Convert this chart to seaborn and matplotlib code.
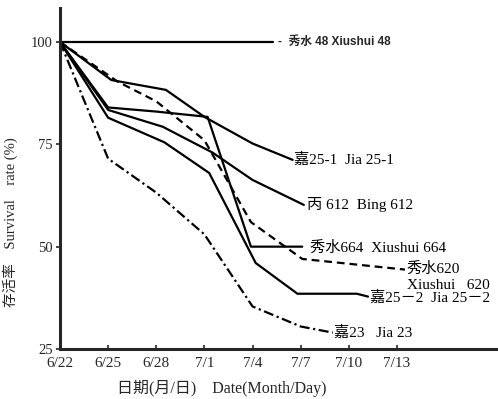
import matplotlib
matplotlib.use('Agg')
import matplotlib.pyplot as plt
import seaborn as sns

sns.set_style('ticks')
plt.rcParams['font.family'] = ['Liberation Serif', 'Noto Sans CJK SC']
plt.rcParams['axes.unicode_minus'] = False

# --- 数据 (day 0 = 6/22) ---
tick_days = [0, 3, 6, 9, 12, 15, 18, 21]
tick_labels = ['6/22', '6/25', '6/28', '7/1', '7/4', '7/7', '7/10', '7/13']

xs48_days = [0, 13.3]
xs48_vals = [100, 100]

jia251_days = [0, 3.2, 6.6, 9.0, 12.0, 14.5]
jia251_vals = [100, 90.7, 88.3, 81.7, 75.2, 71.2]

bing612_days = [0, 3.0, 6.4, 9.5, 12.0, 15.2]
bing612_vals = [100, 83.4, 79.3, 73.0, 66.3, 60.2]

xs664_days = [0, 3.0, 6.0, 9.2, 11.9, 15.1]
xs664_vals = [100, 84.0, 83.0, 81.7, 50.0, 50.0]

xs620_days = [0, 3.6, 6.0, 9.0, 11.9, 15.1, 21.5]
xs620_vals = [100, 90.3, 85.5, 76.0, 56.0, 47.0, 44.4]

jia252_days = [0, 3.0, 6.5, 9.3, 12.2, 14.8, 18.5, 19.2]
jia252_vals = [100, 81.5, 75.5, 68.0, 46.0, 38.5, 38.5, 37.8]

jia23_days = [0, 3.0, 6.0, 9.0, 12.0, 15.0, 17.0]
jia23_vals = [100, 71.5, 63.2, 53.0, 35.4, 30.5, 29.0]

fig = plt.figure(figsize=(4.98, 3.99), dpi=100)
ax = fig.add_axes([60/498, 50/399, 438/498, 341/399])

lw = 1.6
solid = dict(color='black', lw=lw, sort=False, estimator=None, ax=ax)
sns.lineplot(x=xs48_days, y=xs48_vals, **solid)
sns.lineplot(x=jia251_days, y=jia251_vals, **solid)
sns.lineplot(x=bing612_days, y=bing612_vals, **solid)
sns.lineplot(x=xs664_days, y=xs664_vals, **solid)
sns.lineplot(x=jia252_days, y=jia252_vals, **solid)
sns.lineplot(x=xs620_days, y=xs620_vals, linestyle=(0, (3.5, 2.2)), **solid)
sns.lineplot(x=jia23_days, y=jia23_vals, linestyle=(0, (4.5, 1.6, 1.0, 1.6)), **solid)

# 曲线标注
lab = dict(fontsize=11, va='center', ha='left', color='black')
ax.text(13.6, 100, '-  秀水 48 Xiushui 48', family=['Liberation Sans', 'Noto Sans CJK SC'],
        fontweight='bold', fontsize=8.5, va='center', ha='left')
ax.text(14.6, 71.2, '嘉25-1  Jia 25-1', **lab)
ax.text(15.4, 60.2, '丙 612  Bing 612', **lab)
ax.text(15.6, 49.8, '秀水664  Xiushui 664', **lab)
ax.text(21.6, 44.6, '秀水620', **lab)
ax.text(21.6, 40.6, 'Xiushui   620', **lab)
ax.text(19.3, 37.6, '嘉25－2  Jia 25－2', clip_on=False, **lab)
ax.text(17.1, 29.0, '嘉23   Jia 23', **lab)

ax.set_xlim(0, 27.3)
ax.set_ylim(25, 108.3)
ax.set_xticks(tick_days)
ax.set_xticklabels(tick_labels, fontsize=11)
ax.set_yticks([25, 50, 75, 100])
ax.set_yticklabels(['25', '50', '75', '100'], fontsize=10.5)
ax.tick_params(axis='x', direction='in', length=3, width=1.2, pad=6)
ax.tick_params(axis='y', direction='out', length=3, width=1.2, pad=2)

ax.set_xlabel('日期(月/日)    Date(Month/Day)', fontsize=11.5)
ax.set_ylabel('存活率    Survival    rate (%)', fontsize=10.5)
ax.xaxis.set_label_coords(0.37, -0.09)
ax.yaxis.set_label_coords(-0.096, 0.372)

for s in ['top', 'right']:
    ax.spines[s].set_visible(False)
for s in ['left', 'bottom']:
    ax.spines[s].set_linewidth(2.2)

plt.savefig('out.png', dpi=100)
